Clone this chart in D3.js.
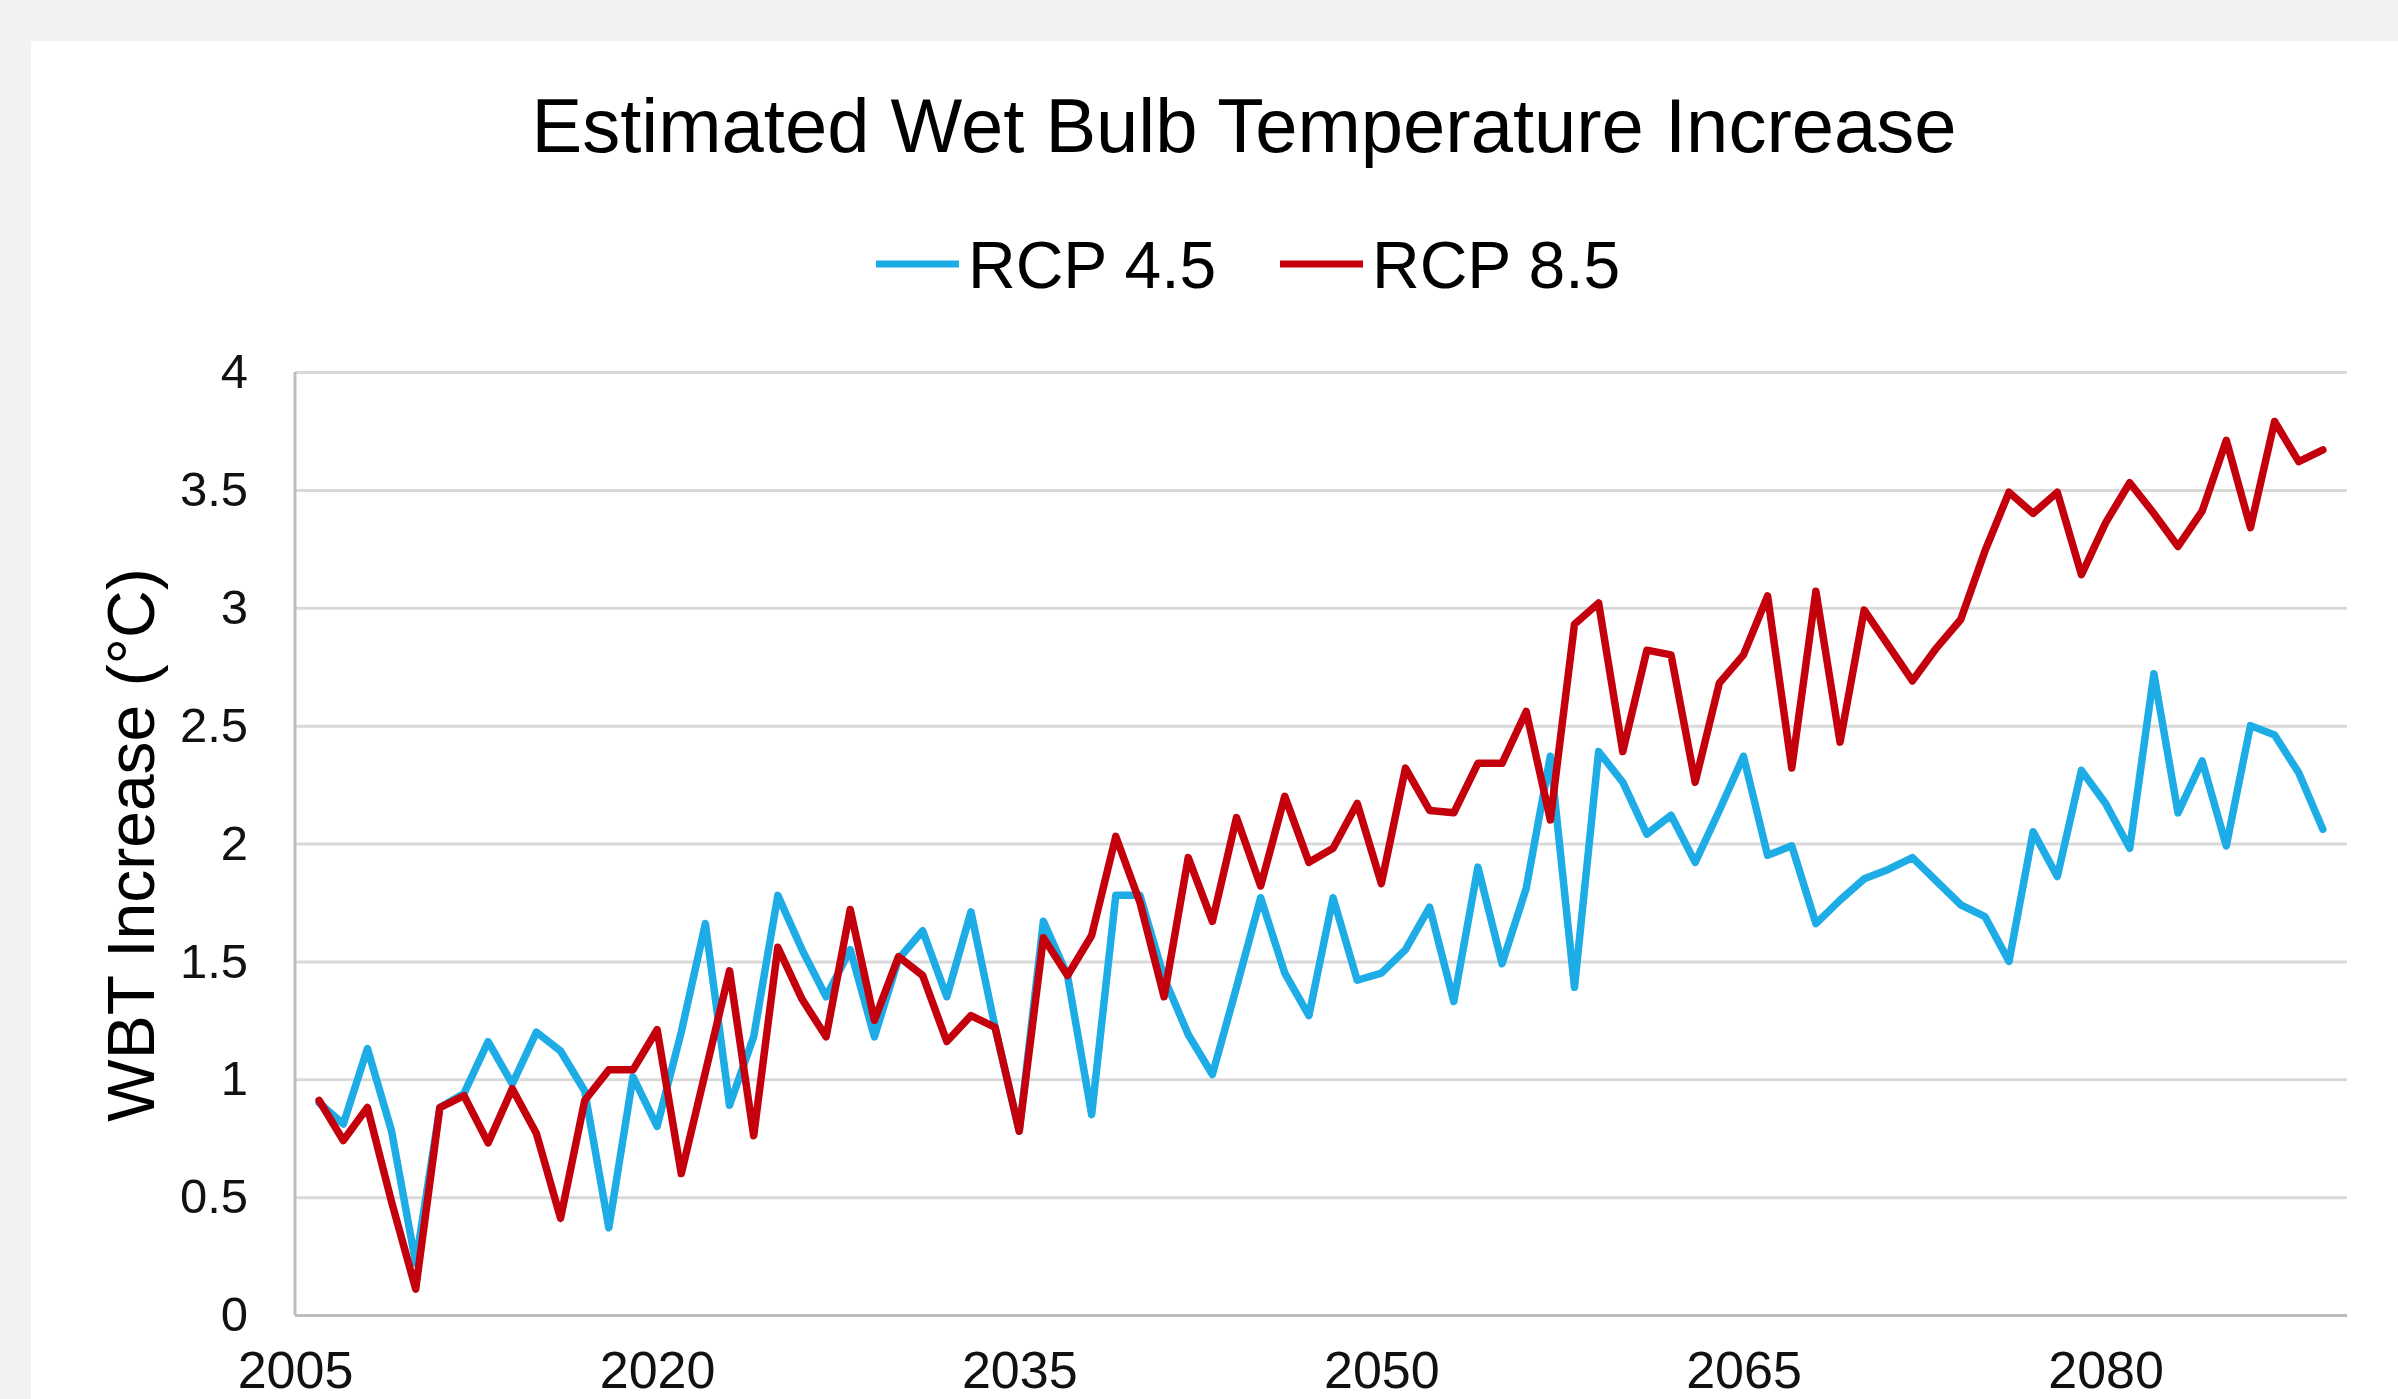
<!DOCTYPE html>
<html>
<head>
<meta charset="utf-8">
<script src="https://cdn.jsdelivr.net/npm/d3@7"></script>
<style>
  html, body { margin: 0; padding: 0; background: #f2f2f2; }
  svg { display: block; font-family: "Liberation Sans", Arial, sans-serif; }
</style>
</head>
<body>
<script>
const w = 2398;
const h = 1399;
const margin = { left: 295, right: 51, top: 372, bottom: 84 };

// one value per year, 2006 - 2089
const years = d3.range(2006, 2090);

const rcp45 = [
  0.90, 0.81, 1.13, 0.78, 0.22, 0.88, 0.94, 1.16, 0.98, 1.20,
  1.12, 0.95, 0.37, 1.01, 0.80, 1.20, 1.66, 0.89, 1.18, 1.78,
  1.55, 1.35, 1.55, 1.18, 1.51, 1.63, 1.35, 1.71, 1.22, 0.78,
  1.67, 1.44, 0.85, 1.78, 1.78, 1.43, 1.19, 1.02, 1.39, 1.77,
  1.45, 1.27, 1.77, 1.42, 1.45, 1.55, 1.73, 1.33, 1.90, 1.49,
  1.81, 2.37, 1.39, 2.39, 2.26, 2.04, 2.12, 1.92, 2.14, 2.37,
  1.95, 1.99, 1.66, 1.76, 1.85, 1.89, 1.94, 1.84, 1.74, 1.69,
  1.50, 2.05, 1.86, 2.31, 2.17, 1.98, 2.72, 2.13, 2.35, 1.99,
  2.50, 2.46, 2.30, 2.06
];

const rcp85 = [
  0.91, 0.74, 0.88, 0.48, 0.11, 0.88, 0.93, 0.73, 0.96, 0.77,
  0.41, 0.91, 1.04, 1.04, 1.21, 0.60, 1.03, 1.46, 0.76, 1.56,
  1.34, 1.18, 1.72, 1.25, 1.52, 1.44, 1.16, 1.27, 1.22, 0.78,
  1.60, 1.44, 1.61, 2.03, 1.75, 1.35, 1.94, 1.67, 2.11, 1.82,
  2.20, 1.92, 1.98, 2.17, 1.83, 2.32, 2.14, 2.13, 2.34, 2.34,
  2.56, 2.10, 2.93, 3.02, 2.39, 2.82, 2.80, 2.26, 2.68, 2.80,
  3.05, 2.32, 3.07, 2.43, 2.99, 2.84, 2.69, 2.83, 2.95, 3.24,
  3.49, 3.40, 3.49, 3.14, 3.36, 3.53, 3.40, 3.26, 3.41, 3.71,
  3.34, 3.79, 3.62, 3.67
];

const xTicks = [2005, 2020, 2035, 2050, 2065, 2080];
const yTicks = [0, 0.5, 1, 1.5, 2, 2.5, 3, 3.5, 4];

const seriesNames = ["RCP 4.5", "RCP 8.5"];
const seriesColors = ["#1eace6", "#c3000b"];

const xScale = d3.scaleLinear()
                .domain([2005, 2090])
                .range([margin.left, w - margin.right]);

const yScale = d3.scaleLinear()
                .domain([0, 4])
                .range([h - margin.bottom, margin.top]);

const svg = d3.select("body")
                .append("svg")
                .attr("width", w)
                .attr("height", h);

// white chart panel on the grey page
svg.append("rect")
    .attr("x", 31)
    .attr("y", 41)
    .attr("width", w - 31)
    .attr("height", h - 41)
    .attr("fill", "#ffffff");

// y axis with gridlines
const yAxis = d3.axisLeft(yScale)
                .tickValues(yTicks)
                .tickFormat(d => d)
                .tickSize(-(w - margin.left - margin.right))
                .tickPadding(47);

const yG = svg.append("g")
    .attr("id", "y_axis")
    .attr("transform", `translate(${margin.left}, 0)`)
    .call(yAxis);

yG.select(".domain").remove();
yG.selectAll(".tick line")
    .attr("stroke", d => d === 0 ? "#bdbdbd" : "#d9d9d9")
    .attr("stroke-width", 3);
yG.selectAll("text")
    .attr("font-size", 49)
    .attr("fill", "#111");

// left axis line
svg.append("line")
    .attr("x1", margin.left)
    .attr("x2", margin.left)
    .attr("y1", yScale(4))
    .attr("y2", yScale(0))
    .attr("stroke", "#bdbdbd")
    .attr("stroke-width", 3);

// x axis
const xAxis = d3.axisBottom(xScale)
                .tickValues(xTicks)
                .tickFormat(d3.format("d"))
                .tickSize(0)
                .tickPadding(36);

const xG = svg.append("g")
    .attr("id", "x_axis")
    .attr("transform", `translate(0, ${h - margin.bottom})`)
    .call(xAxis);

xG.select(".domain").remove();
xG.selectAll("text")
    .attr("font-size", 52)
    .attr("fill", "#111");

// lines, RCP 8.5 drawn over RCP 4.5
const line = d3.line()
                .x((d, i) => xScale(years[i]))
                .y(d => yScale(d));

[rcp45, rcp85].forEach((series, i) => {
    svg.append("path")
        .datum(series)
        .attr("d", line)
        .attr("fill", "none")
        .attr("stroke", seriesColors[i])
        .attr("stroke-width", 7.5)
        .attr("stroke-linejoin", "round")
        .attr("stroke-linecap", "round");
});

// title
svg.append("text")
    .attr("x", 1244)
    .attr("y", 152)
    .attr("text-anchor", "middle")
    .attr("font-size", 76)
    .attr("fill", "#000")
    .text("Estimated Wet Bulb Temperature Increase");

// legend
const legendX = [876, 1280];
seriesNames.forEach((name, i) => {
    const g = svg.append("g")
        .attr("transform", `translate(${legendX[i]}, 264)`);
    g.append("line")
        .attr("x1", 0)
        .attr("x2", 83)
        .attr("stroke", seriesColors[i])
        .attr("stroke-width", 7);
    g.append("text")
        .attr("x", 92)
        .attr("y", 24)
        .attr("font-size", 66)
        .attr("fill", "#000")
        .text(name);
});

// y axis title
svg.append("text")
    .attr("transform", "translate(154, 845) rotate(-90)")
    .attr("text-anchor", "middle")
    .attr("font-size", 66)
    .attr("fill", "#000")
    .text("WBT Increase (°C)");
</script>
</body>
</html>
